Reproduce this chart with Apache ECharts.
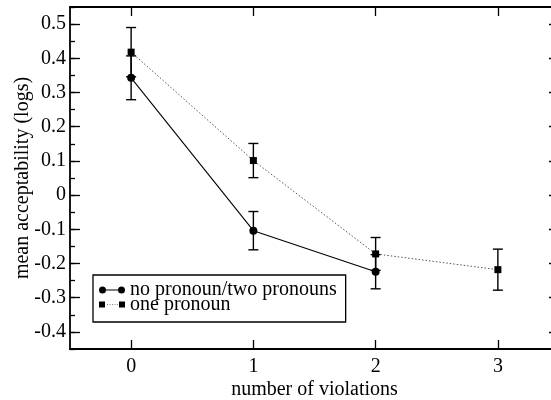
<!DOCTYPE html>
<html>
<head>
<meta charset="utf-8">
<script src="https://cdn.jsdelivr.net/npm/echarts@6/dist/echarts.min.js"></script>
<style>
  html, body { margin: 0; padding: 0; background: #fff; }
  #chart { width: 551px; height: 400px; }
</style>
</head>
<body>
<div id="chart"></div>
<script>
// Mean acceptability by number of violations, two pronoun conditions
const violations = [0, 1, 2, 3];
const noPronounMeans = [0.343, -0.104, -0.224];
const noPronounErr = [0.064, 0.056, 0.050];
const onePronounMeans = [0.418, 0.101, -0.172, -0.218];
const onePronounErr = [0.072, 0.050, 0.048, 0.060];
const yMajorTicks = [-0.4, -0.3, -0.2, -0.1, 0, 0.1, 0.2, 0.3, 0.4, 0.5];

const FONT = "'Liberation Serif', 'Times New Roman', serif";

const pairs = (ys) => ys.map((y, i) => [violations[i], y]);
const errRows = (ys, es) => ys.map((y, i) => [violations[i], y - es[i], y + es[i]]);

// vertical error bar with short caps, positioned through the axis scales
function errorBar(params, api) {
  const x = api.value(0);
  const lo = api.coord([x, api.value(1)]);
  const hi = api.coord([x, api.value(2)]);
  const cap = 5;
  const style = { stroke: '#000', lineWidth: 1.4, fill: null };
  return {
    type: 'group',
    children: [
      { type: 'line', shape: { x1: lo[0], y1: lo[1], x2: hi[0], y2: hi[1] }, style },
      { type: 'line', shape: { x1: hi[0] - cap, y1: hi[1], x2: hi[0] + cap, y2: hi[1] }, style },
      { type: 'line', shape: { x1: lo[0] - cap, y1: lo[1], x2: lo[0] + cap, y2: lo[1] }, style }
    ]
  };
}

// legend glyphs: marker - line - marker
const circleIcon = 'path://M0,3.5A3.5,3.5 0 1,0 7,3.5A3.5,3.5 0 1,0 0,3.5Z' +
  'M7,3L19,3L19,4L7,4Z' +
  'M19,3.5A3.5,3.5 0 1,0 26,3.5A3.5,3.5 0 1,0 19,3.5Z';
const squareIcon = 'path://M0,0.5L6,0.5L6,6.5L0,6.5Z' +
  'M8,3.2L9,3.2L9,3.8L8,3.8Z M10.5,3.2L11.5,3.2L11.5,3.8L10.5,3.8Z' +
  'M13,3.2L14,3.2L14,3.8L13,3.8Z M15.5,3.2L16.5,3.2L16.5,3.8L15.5,3.8Z' +
  'M18,3.2L19,3.2L19,3.8L18,3.8Z' +
  'M20,0.5L26,0.5L26,6.5L20,6.5Z M0,0L0.01,0L0.01,0.01Z M26,7L25.99,7L25.99,6.99Z';

const axisLineStyle = { color: '#000', width: 1.8 };

const chart = echarts.init(document.getElementById('chart'), null, { renderer: 'canvas' });
chart.setOption({
  animation: false,
  backgroundColor: '#fff',
  textStyle: { fontFamily: FONT },
  grid: { left: 70, top: 7, right: -8, bottom: 51, containLabel: false, outerBoundsMode: 'none' },
  legend: {
    orient: 'vertical',
    left: 93,
    top: 275,
    padding: [5, 9, 7.5, 6],
    itemGap: -5.5,
    itemWidth: 26,
    itemHeight: 7,
    borderColor: '#000',
    borderWidth: 1.3,
    borderRadius: 0,
    backgroundColor: '#fff',
    textStyle: { fontFamily: FONT, fontSize: 20, color: '#000' },
    data: [
      { name: 'no pronoun/two pronouns', icon: circleIcon },
      { name: 'one pronoun', icon: squareIcon }
    ]
  },
  xAxis: [
    {
      type: 'value', position: 'bottom', min: -0.5, max: 3.5,
      name: 'number of violations', nameLocation: 'middle', nameGap: 31, nameMoveOverlap: false,
      nameTextStyle: { fontFamily: FONT, fontSize: 20, color: '#000' },
      axisLine: { onZero: false, lineStyle: axisLineStyle },
      axisTick: { inside: true, length: 9, customValues: violations, lineStyle: { color: '#000', width: 1.3 } },
      axisLabel: { customValues: violations, margin: 8, fontFamily: FONT, fontSize: 20, color: '#000' },
      splitLine: { show: false }
    },
    {
      type: 'value', position: 'top', min: -0.5, max: 3.5,
      axisLine: { onZero: false, lineStyle: axisLineStyle },
      axisTick: { inside: true, length: 9, customValues: violations, lineStyle: { color: '#000', width: 1.3 } },
      axisLabel: { show: false },
      splitLine: { show: false }
    }
  ],
  yAxis: [
    {
      type: 'value', position: 'left', min: -0.45, max: 0.55,
      name: 'mean acceptability (logs)', nameLocation: 'middle', nameGap: 37, nameMoveOverlap: false,
      nameTextStyle: { fontFamily: FONT, fontSize: 20, color: '#000' },
      axisLine: { onZero: false, lineStyle: axisLineStyle },
      axisTick: { inside: true, length: 10, customValues: yMajorTicks, lineStyle: { color: '#000', width: 1.3 } },
      axisLabel: {
        customValues: yMajorTicks, margin: 4, fontFamily: FONT, fontSize: 20, color: '#000',
        formatter: (v) => Math.abs(v) < 1e-9 ? '0' : v.toFixed(1)
      },
      splitLine: { show: false }
    },
    {
      type: 'value', position: 'left', min: -0.45, max: 0.55, interval: 0.05,
      axisLine: { show: false, onZero: false },
      axisTick: { inside: true, length: 5, lineStyle: { color: '#000', width: 1.3 } },
      axisLabel: { show: false },
      splitLine: { show: false }
    },
    {
      type: 'value', position: 'right', min: -0.45, max: 0.55,
      axisLine: { onZero: false, lineStyle: axisLineStyle },
      axisTick: { inside: true, length: 10, customValues: yMajorTicks, lineStyle: { color: '#000', width: 1.3 } },
      axisLabel: { show: false },
      splitLine: { show: false }
    }
  ],
  series: [
    {
      type: 'custom', name: 'err-one', renderItem: errorBar,
      encode: { x: 0, y: [1, 2] }, data: errRows(onePronounMeans, onePronounErr), z: 2, silent: true
    },
    {
      type: 'custom', name: 'err-none', renderItem: errorBar,
      encode: { x: 0, y: [1, 2] }, data: errRows(noPronounMeans, noPronounErr), z: 2, silent: true
    },
    {
      name: 'one pronoun', type: 'line', data: pairs(onePronounMeans),
      symbol: 'rect', symbolSize: 7, color: '#000',
      itemStyle: { color: '#000' },
      lineStyle: { color: '#555', width: 1, type: [1.5, 2] }, z: 3
    },
    {
      name: 'no pronoun/two pronouns', type: 'line', data: pairs(noPronounMeans),
      symbol: 'circle', symbolSize: 8, color: '#000',
      itemStyle: { color: '#000' },
      lineStyle: { color: '#000', width: 1.1 }, z: 4
    }
  ]
});
</script>
</body>
</html>
